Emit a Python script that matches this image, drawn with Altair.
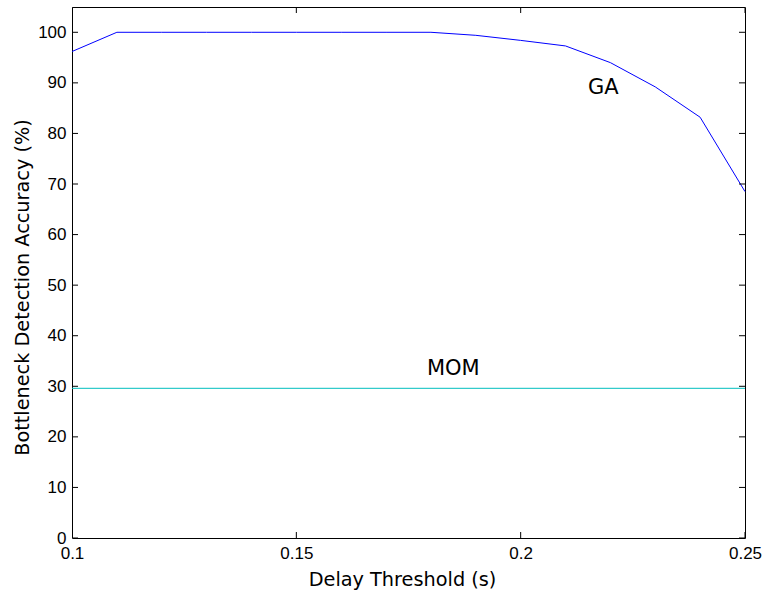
import altair as alt
import pandas as pd

# Data
ga_x = [0.10, 0.11, 0.12, 0.13, 0.14, 0.15, 0.16, 0.17, 0.18, 0.19, 0.20, 0.21, 0.22, 0.23, 0.24, 0.25]
ga_y = [96.2, 100.0, 100.0, 100.0, 100.0, 100.0, 100.0, 100.0, 100.0, 99.4, 98.4, 97.3, 94.0, 89.2, 83.2, 68.5]
mom_x = [0.10, 0.25]
mom_y = [29.6, 29.6]

label_text = ["GA", "MOM"]
label_x = [0.2184, 0.185]
label_y = [87.8, 32.3]

x_ticks = [0.1, 0.15, 0.2, 0.25]
y_ticks = [0, 10, 20, 30, 40, 50, 60, 70, 80, 90, 100]

W, H = 673, 531

ga_df = pd.DataFrame({"x": ga_x, "y": ga_y})
mom_df = pd.DataFrame({"x": mom_x, "y": mom_y})
lab_df = pd.DataFrame({"x": label_x, "y": label_y, "t": label_text})
xt_df = pd.DataFrame({"x": x_ticks})
yt_df = pd.DataFrame({"y": y_ticks})

xscale = alt.Scale(domain=[0.1, 0.25], nice=False, zero=False)
yscale = alt.Scale(domain=[0, 105], nice=False)

xaxis = alt.Axis(values=x_ticks, format="~g", title="Delay Threshold (s)",
                 labelPadding=7, titlePadding=9, titleX=330)
yaxis = alt.Axis(values=y_ticks, title="Bottleneck Detection Accuracy (%)",
                 labelPadding=6, titlePadding=5, titleY=280)

ga = alt.Chart(ga_df).mark_line(color="#0000ff", strokeWidth=1).encode(
    x=alt.X("x:Q", scale=xscale, axis=xaxis),
    y=alt.Y("y:Q", scale=yscale, axis=yaxis),
)
mom = alt.Chart(mom_df).mark_line(color="#00bfbf", strokeWidth=1).encode(
    x=alt.X("x:Q", scale=xscale),
    y=alt.Y("y:Q", scale=yscale),
)
labels = alt.Chart(lab_df).mark_text(font="DejaVu Sans", fontSize=21, align="center",
                                     baseline="alphabetic", color="black").encode(
    x=alt.X("x:Q", scale=xscale),
    y=alt.Y("y:Q", scale=yscale),
    text="t:N",
)

tick_style = dict(size=12, thickness=1, clip=True, color="black", opacity=1)
xt_bottom = alt.Chart(xt_df).mark_tick(orient="vertical", **tick_style).encode(
    x=alt.X("x:Q", scale=xscale), y=alt.value(H))
xt_top = alt.Chart(xt_df).mark_tick(orient="vertical", **tick_style).encode(
    x=alt.X("x:Q", scale=xscale), y=alt.value(0))
yt_left = alt.Chart(yt_df).mark_tick(orient="horizontal", **tick_style).encode(
    y=alt.Y("y:Q", scale=yscale), x=alt.value(0))
yt_right = alt.Chart(yt_df).mark_tick(orient="horizontal", **tick_style).encode(
    y=alt.Y("y:Q", scale=yscale), x=alt.value(W))

chart = alt.layer(ga, mom, labels, xt_bottom, xt_top, yt_left, yt_right).properties(
    width=W, height=H,
    autosize=alt.AutoSizeParams(type="none"),
    padding={"left": 72, "top": 7, "right": 20, "bottom": 56},
    background="white",
).configure_view(
    stroke="black", strokeWidth=1
).configure_axis(
    grid=False, ticks=False, tickSize=0, domain=False,
    labelFont="Liberation Sans", labelFontSize=17, labelColor="black",
    titleFont="DejaVu Sans", titleFontSize=19.3, titleFontWeight="normal", titleColor="black",
    labelOverlap=False, labelFlush=False, labelBound=False,
)

chart.save("out.html", embed_options={"renderer": "svg", "actions": False})
